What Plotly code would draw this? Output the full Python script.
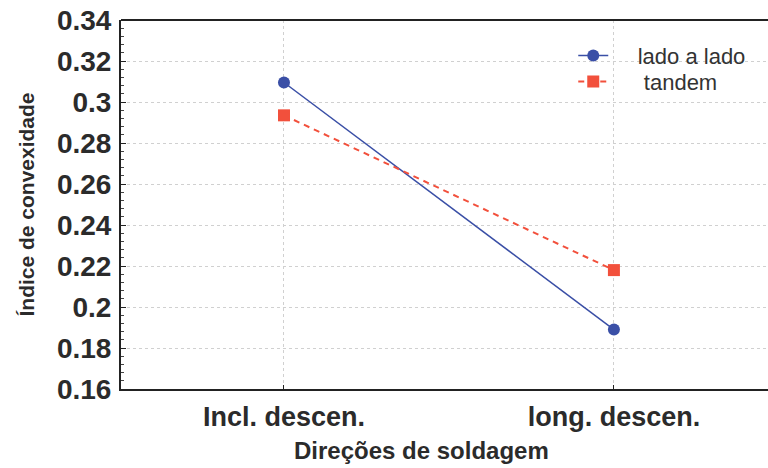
import plotly.graph_objs as go

direcoes = ["Incl. descen.", "long. descen."]
lado_a_lado = [0.3095, 0.189]
tandem = [0.2935, 0.218]

y_ticks = [0.16, 0.18, 0.2, 0.22, 0.24, 0.26, 0.28, 0.3, 0.32, 0.34]
y_labels = ["0.16", "0.18", "0.2", "0.22", "0.24", "0.26", "0.28", "0.3", "0.32", "0.34"]

fnt = "Liberation Sans, Arial"
txt = "#2b2b2b"

fig = go.Figure()
fig.add_trace(go.Scatter(x=[0, 1], y=lado_a_lado, name="    lado a lado", mode="lines+markers",
                         line=dict(color="#3a4fa6", width=1.5),
                         marker=dict(symbol="circle", size=12, color="#3a4fa6"),
                         legend="legend"))
fig.add_trace(go.Scatter(x=[0, 1], y=tandem, name="     tandem", mode="lines+markers",
                         line=dict(color="#f2503c", width=2, dash="6px,5px"),
                         marker=dict(symbol="square", size=12, color="#f2503c"),
                         legend="legend2"))

leg_font = dict(family=fnt, size=22, color="#333333")

fig.update_layout(
    width=768, height=468,
    margin=dict(l=121, r=0, t=20, b=79),
    plot_bgcolor="white", paper_bgcolor="white",
    showlegend=True,
    legend=dict(x=0.699, y=0.96, xanchor="left", yanchor="top", bgcolor="rgba(0,0,0,0)",
                font=leg_font),
    legend2=dict(x=0.699, y=0.89, xanchor="left", yanchor="top", bgcolor="rgba(0,0,0,0)",
                 font=leg_font),
    xaxis=dict(range=[-0.494, 1.467], tickvals=[0, 1], ticktext=direcoes, automargin=False,
               tickfont=dict(family=fnt, size=27, color=txt, weight="bold"),
               ticklabelstandoff=3,
               showline=True, linecolor="#222222", linewidth=2, mirror=False,
               ticks="inside", ticklen=4, tickcolor="#222222",
               showgrid=True, gridcolor="#d0d0d0", griddash="dot", gridwidth=1,
               zeroline=False),
    yaxis=dict(range=[0.16, 0.34], tickvals=y_ticks, ticktext=y_labels, automargin=False,
               tickfont=dict(family=fnt, size=28, color=txt, weight="bold"),
               ticklabelstandoff=2, ticklabeloverflow="allow",
               showline=True, linecolor="#222222", linewidth=2,
               ticks="inside", ticklen=5, tickcolor="#222222",
               minor=dict(dtick=0.004, ticks="inside", ticklen=3, tickcolor="#444444", showgrid=False),
               showgrid=True, gridcolor="#d0d0d0", griddash="dot", gridwidth=1,
               zeroline=False,
               title=dict(text="Índice de convexidade", standoff=17,
                          font=dict(family=fnt, size=21, color=txt, weight="bold"))),
)
# x title sits a bit left of the plot centre in the original, so place it by hand
fig.add_annotation(text="Direções de soldagem", xref="paper", yref="paper",
                   x=0.464, y=-0.168, xanchor="center", yanchor="middle", showarrow=False,
                   font=dict(family=fnt, size=24, color=txt, weight="bold"))
fig.add_shape(type="line", xref="paper", yref="paper", x0=0, x1=1, y0=1, y1=1,
              line=dict(color="#222222", width=2))

# drop the default 8px page margin so the figure sits at the window's corner
fig.write_html("out.html", config={"displayModeBar": False},
               post_script="document.body.style.margin='0';")
